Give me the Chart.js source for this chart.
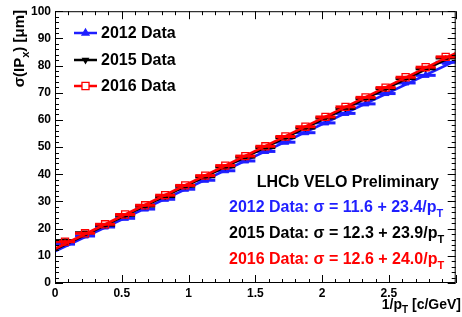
<!DOCTYPE html>
<html><head><meta charset="utf-8">
<script src="https://cdn.jsdelivr.net/npm/chart.js@4/dist/chart.umd.min.js"></script>
<style>html,body{margin:0;padding:0;background:#fff;overflow:hidden}</style>
</head><body>
<canvas id="c" width="462" height="317"></canvas>
<script>
// ---- data ----
const invPt = [0.075,0.225,0.375,0.525,0.675,0.825,0.975,1.125,1.275,1.425,1.575,1.725,1.875,2.025,2.175,2.325,2.475,2.625,2.775,2.925];
const binHalfWidth = [0.075,0.075,0.075,0.075,0.075,0.075,0.075,0.075,0.075,0.075,0.075,0.075,0.075,0.075,0.075,0.075,0.075,0.075,0.075,0.075];
const sigma2012 = [14.3,17.3,20.6,23.8,27.2,30.8,34.5,37.8,41.3,44.9,48.4,51.8,55.3,58.9,62.4,65.9,69.7,73.6,76.4,81.2];
const sigma2015 = [15.6,18.5,21.3,24.9,28.3,31.8,35.6,39.1,42.7,46.3,49.8,53.5,57.0,60.7,64.2,67.8,71.5,75.2,78.8,82.8];
const sigma2016 = [15.2,18.3,21.6,25.2,28.6,32.3,35.9,39.5,43.2,46.7,50.3,53.9,57.5,61.1,64.8,68.3,71.9,75.7,79.4,83.2];
const sigmaErr  = [0.8,0.6,0.5,0.5,0.5,0.5,0.5,0.5,0.5,0.5,0.5,0.5,0.5,0.5,0.5,0.5,0.5,0.5,0.5,0.6];
const fitX = [0, 3];
const fit2012 = [11.6, 81.8];
const fit2015 = [12.3, 84.0];
const fit2016 = [12.6, 84.6];
const seriesNames = ['2012 Data', '2015 Data', '2016 Data'];
const fitLabels = ['2012 Data: \u03C3 = 11.6 + 23.4/p', '2015 Data: \u03C3 = 12.3 + 23.9/p', '2016 Data: \u03C3 = 12.6 + 24.0/p'];
const headerText = 'LHCb VELO Preliminary';
const xTickLabels = ['0','0.5','1','1.5','2','2.5'];

// ---- styles ----
const colors = ['#1f1fff', '#000000', '#ff0000'];
const FONT = '"Liberation Sans", Arial, Helvetica, sans-serif';
const pointStyles = [
  {pointStyle:'triangle', radius:4, rotation:0, fill:true},
  {pointStyle:'triangle', radius:3.2, rotation:180, fill:true},
  {pointStyle:'rect', radius:5, rotation:0, fill:false}
];

function pts(xs, ys){ return xs.map((x,i)=>({x:x, y:ys[i]})); }

const seriesY = [sigma2012, sigma2015, sigma2016];
const fits = [fit2012, fit2015, fit2016];
const datasets = [];
let ord = 5;
for (let s=0; s<3; s++){
  const ps = pointStyles[s];
  datasets.push({
    label: seriesNames[s], type:'scatter', data: pts(invPt, seriesY[s]), order: ord--,
    pointStyle: ps.pointStyle, pointRadius: ps.radius, pointRotation: ps.rotation,
    pointBackgroundColor: ps.fill ? colors[s] : 'rgba(0,0,0,0)', pointBorderColor: colors[s],
    pointBorderWidth: ps.fill ? 1 : 1.3, showLine:false, _series:s, _err:true
  });
  datasets.push({
    label: seriesNames[s]+' fit', type:'line', data: pts(fitX, fits[s]), order: ord--,
    borderColor: colors[s], borderWidth: 2.5, pointRadius:0, fill:false, tension:0, _series:s
  });
}

const errorBars = {
  id:'errorBars',
  beforeDatasetDraw(chart, args){
    const ds = chart.data.datasets[args.index];
    if (!ds._err) return;
    const xs = chart.scales.x, ys = chart.scales.y, ctx = chart.ctx;
    const c = colors[ds._series];
    ctx.save();
    ctx.strokeStyle = c;
    ds.data.forEach((p,i)=>{
      const px = xs.getPixelForValue(p.x), py = ys.getPixelForValue(p.y);
      ctx.lineWidth = 3;
      ctx.beginPath();
      ctx.moveTo(xs.getPixelForValue(p.x - binHalfWidth[i]), py);
      ctx.lineTo(xs.getPixelForValue(p.x + binHalfWidth[i]), py);
      ctx.stroke();
      ctx.lineWidth = 1.5;
      ctx.beginPath();
      ctx.moveTo(px, ys.getPixelForValue(p.y - sigmaErr[i]));
      ctx.lineTo(px, ys.getPixelForValue(p.y + sigmaErr[i]));
      ctx.stroke();
    });
    ctx.restore();
  }
};

function drawSubText(ctx, parts, x, y, size){
  // parts: [text, isSub]
  let cx = x;
  parts.forEach(([t, sub])=>{
    ctx.font = 'bold ' + (sub ? Math.round(size*0.7) : size) + 'px ' + FONT;
    ctx.fillText(t, cx, y + (sub ? size*0.3 : 0));
    cx += ctx.measureText(t).width;
  });
  return cx - x;
}
function measureSubText(ctx, parts, size){
  let w = 0;
  parts.forEach(([t, sub])=>{
    ctx.font = 'bold ' + (sub ? Math.round(size*0.7) : size) + 'px ' + FONT;
    w += ctx.measureText(t).width;
  });
  return w;
}

const frame = {
  id:'frame',
  afterDraw(chart){
    const ctx = chart.ctx, a = chart.chartArea, xs = chart.scales.x, ys = chart.scales.y;
    ctx.save();
    ctx.strokeStyle = '#000';
    ctx.lineWidth = 1;
    ctx.strokeRect(a.left+0.5, a.top+0.5, a.right-a.left-1, a.bottom-a.top-1);
    // y ticks (left and right)
    ctx.beginPath();
    for (let v=0; v<=100; v+=2){
      const py = Math.round(ys.getPixelForValue(v))+0.5;
      const len = (v % 10 === 0) ? 8 : 4;
      ctx.moveTo(a.left, py); ctx.lineTo(a.left+len, py);
      ctx.moveTo(a.right, py); ctx.lineTo(a.right-len, py);
    }
    // x ticks (bottom and top)
    for (let k=0; k<=30; k++){
      const v = k/10;
      const px = Math.round(xs.getPixelForValue(v))+0.5;
      const len = (k % 5 === 0) ? 8 : 4;
      ctx.moveTo(px, a.bottom); ctx.lineTo(px, a.bottom-len);
      ctx.moveTo(px, a.top); ctx.lineTo(px, a.top+len);
    }
    ctx.stroke();

    // legend
    ctx.textBaseline = 'middle';
    ctx.textAlign = 'left';
    const legY = [33, 60, 86];
    for (let s=0; s<3; s++){
      ctx.strokeStyle = colors[s];
      ctx.lineWidth = 2.5;
      ctx.beginPath(); ctx.moveTo(74, legY[s]); ctx.lineTo(97, legY[s]); ctx.stroke();
      const ps = pointStyles[s];
      ctx.fillStyle = ps.fill ? colors[s] : '#fff';
      ctx.lineWidth = 1.3;
      Chart.helpers.drawPoint(ctx, {pointStyle: ps.pointStyle, radius: ps.radius, rotation: ps.rotation, borderWidth: 1.3}, 85.5, legY[s]);
      ctx.fillStyle = '#000';
      ctx.font = 'bold 16px ' + FONT;
      ctx.fillText(seriesNames[s], 101, legY[s]+1);
    }

    // annotation texts
    ctx.textBaseline = 'alphabetic';
    ctx.fillStyle = '#000';
    ctx.font = 'bold 16px ' + FONT;
    ctx.textAlign = 'right';
    ctx.fillText(headerText, 439, 187);
    ctx.textAlign = 'left';
    const fy = [212, 238, 264];
    for (let s=0; s<3; s++){
      ctx.fillStyle = colors[s];
      drawSubText(ctx, [[fitLabels[s], false], ['T', true]], 229, fy[s], 16);
    }

    // axis titles
    ctx.fillStyle = '#000';
    const xt = [['1/p', false], ['T', true], [' [c/GeV]', false]];
    const xw = measureSubText(ctx, xt, 14);
    drawSubText(ctx, xt, 461 - xw, 309, 14);

    const yt = [['\u03C3(IP', false], ['x', true], [') [\u03BCm]', false]];
    const yw = measureSubText(ctx, yt, 15);
    ctx.save();
    ctx.translate(24, 10 + yw);
    ctx.rotate(-Math.PI/2);
    drawSubText(ctx, yt, 0, 0, 15);
    ctx.restore();
    ctx.restore();
  }
};

new Chart(document.getElementById('c'), {
  type:'scatter',
  data:{datasets: datasets},
  options:{
    responsive:false, animation:false, devicePixelRatio:1,
    layout:{padding:{top:11, right:1, left:0, bottom:0}},
    plugins:{legend:{display:false}, tooltip:{enabled:false}},
    scales:{
      x:{type:'linear', min:0, max:3,
        afterBuildTicks(s){ s.ticks = xTickLabels.map(t=>({value: parseFloat(t)})); },
        ticks:{autoSkip:false, maxRotation:0, color:'#000', padding:3,
          font:{family:FONT, size:12, weight:'bold'},
          callback:(v,i)=>xTickLabels[i]},
        grid:{display:false, drawTicks:false}, border:{display:false},
        afterFit(s){ s.height = 34; }},
      y:{type:'linear', min:0, max:100,
        ticks:{stepSize:10, color:'#000', padding:4, font:{family:FONT, size:12, weight:'bold'}},
        grid:{display:false, drawTicks:false}, border:{display:false},
        afterFit(s){ s.width = 55; }}
    }
  },
  plugins:[errorBars, frame]
});
</script>
</body></html>
